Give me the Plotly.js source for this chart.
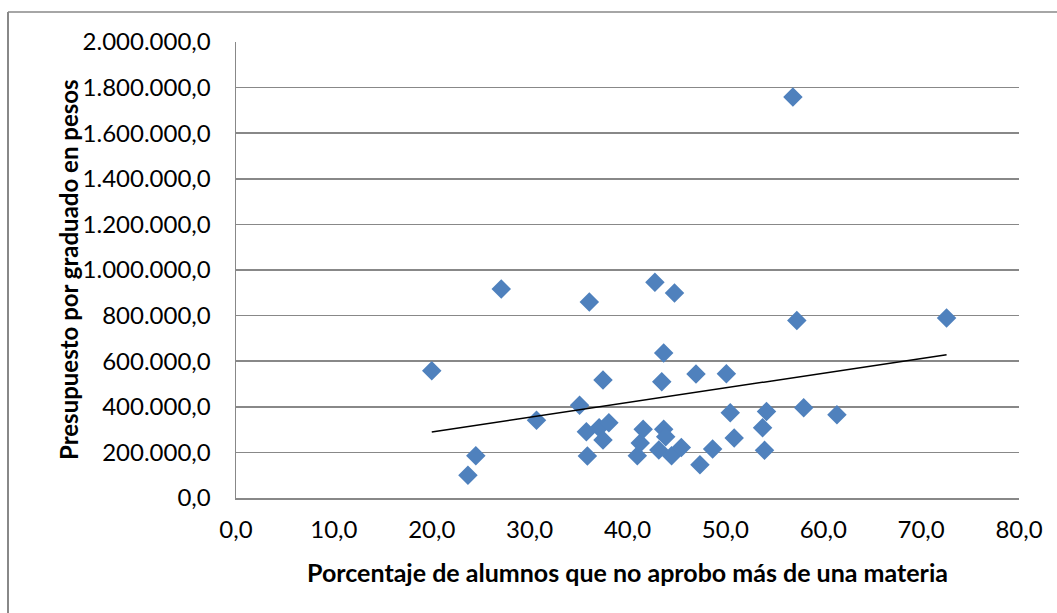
<!DOCTYPE html>
<html>
<head>
<meta charset="utf-8">
<script src="https://cdn.plot.ly/plotly-3.0.1.min.js"></script>
<style>html,body{margin:0;padding:0;background:#fff;}#chart{width:1057px;height:613px;}</style>
</head>
<body>
<div id="chart"></div>
<script>
var porcentaje = [20.0, 23.7, 24.5, 27.1, 30.7, 35.1, 36.1, 35.8, 35.9, 37.1, 37.5, 37.5, 38.1, 41.0, 41.3, 41.6, 42.8, 43.2, 43.5, 43.7, 43.7, 43.9, 44.8, 44.5, 45.5, 47.0, 47.4, 48.7, 50.1, 50.5, 50.9, 53.8, 54.0, 54.2, 56.9, 57.3, 58.0, 61.4, 72.6];
var presupuesto = [558000, 100000, 185000, 917000, 341000, 407000, 860000, 291000, 184000, 308000, 518000, 254000, 330000, 185000, 241000, 301000, 946000, 211000, 510000, 636000, 301000, 269000, 899000, 185000, 221000, 544000, 146000, 215000, 545000, 374000, 263000, 308000, 209000, 379000, 1759000, 779000, 396000, 365000, 789000];
var xTitle = 'Porcentaje de alumnos que no aprobo más de una materia';
var yTitle = 'Presupuesto por graduado en pesos';

// linear trendline (least squares)
var n = porcentaje.length, sx = 0, sy = 0, sxx = 0, sxy = 0;
for (var i = 0; i < n; i++) { sx += porcentaje[i]; sy += presupuesto[i]; sxx += porcentaje[i]*porcentaje[i]; sxy += porcentaje[i]*presupuesto[i]; }
var slope = (n*sxy - sx*sy) / (n*sxx - sx*sx);
var intercept = (sy - slope*sx) / n;
var xmin = Math.min.apply(null, porcentaje), xmax = Math.max.apply(null, porcentaje);
var trendX = [xmin, xmax];
var trendY = trendX.map(function(v){ return intercept + slope*v; });

var W = 1057, H = 613, L = 236, R = 38, T = 42, B = 115;
var pw = W - L - R, ph = H - T - B;
function px(x){ return (x - L) / pw; }
function py(y){ return (H - B - y) / ph; }

var fontFam = 'Lato, "Open Sans", sans-serif';
var data = [
  { x: porcentaje, y: presupuesto, type: 'scatter', mode: 'markers',
    marker: { symbol: 'diamond', size: 15, color: '#4F81BD', line: { width: 0 } },
    hoverinfo: 'none', cliponaxis: false },
  { x: trendX, y: trendY, type: 'scatter', mode: 'lines',
    line: { color: '#000000', width: 1.5 }, hoverinfo: 'none' }
];
var layout = {
  width: W, height: H,
  margin: { l: L, r: R, t: T, b: B },
  paper_bgcolor: '#ffffff', plot_bgcolor: '#ffffff',
  showlegend: false,
  separators: ',.',
  font: { family: fontFam, size: 24, color: '#000000' },
  xaxis: {
    range: [0, 80], dtick: 10, tick0: 0, tickformat: ',.1f',
    showgrid: false, zeroline: false,
    showline: true, linecolor: '#888888', linewidth: 1.5,
    ticks: '', ticklabelstandoff: 10,
    tickfont: { family: fontFam, size: 24, color: '#000' },
    title: { text: '<b>' + xTitle + '</b>', font: { family: fontFam, size: 25, color: '#000' }, standoff: 22 }
  },
  yaxis: {
    range: [0, 2000000], dtick: 200000, tick0: 0, tickformat: ',.1f',
    showgrid: true, gridcolor: '#888888', gridwidth: 1.5,
    zeroline: false,
    showline: true, linecolor: '#888888', linewidth: 1.5,
    ticks: '', ticklabelstandoff: 19,
    tickfont: { family: fontFam, size: 24, color: '#000' }
  },
  annotations: [
    { text: '<b>' + yTitle + '</b>', textangle: -90, xref: 'paper', yref: 'paper',
      x: px(68), y: 0.5, xanchor: 'center', yanchor: 'middle', showarrow: false,
      font: { family: fontFam, size: 24, color: '#000' } }
  ],
  shapes: [
    { type: 'line', xref: 'paper', yref: 'paper', x0: px(8), x1: px(1060), y0: py(12), y1: py(12), line: { color: '#888888', width: 1.5 } },
    { type: 'line', xref: 'paper', yref: 'paper', x0: px(8), x1: px(8), y0: py(12), y1: py(620), line: { color: '#888888', width: 2 } }
  ]
};
Plotly.newPlot('chart', data, layout, { displayModeBar: false, staticPlot: true });
</script>
</body>
</html>
